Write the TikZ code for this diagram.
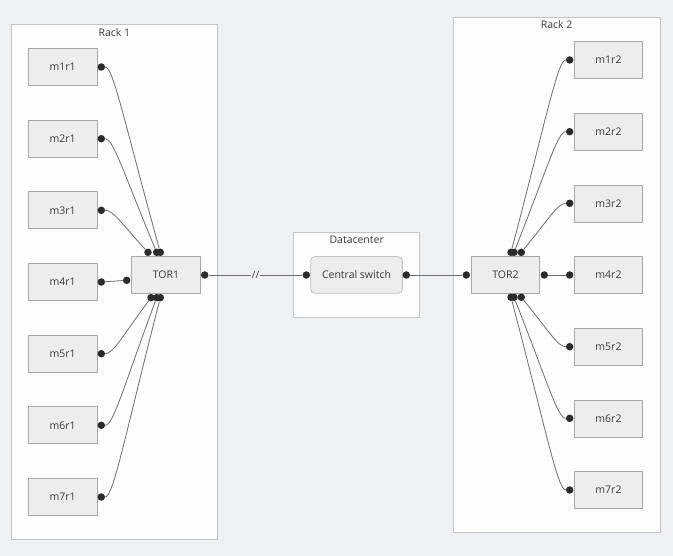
\documentclass[tikz,border=0pt]{standalone}
\usepackage{fontspec}
\setmainfont{Open Sans}
\definecolor{canvas}{HTML}{EEF1F4}
\definecolor{rackfill}{HTML}{FDFDFD}
\definecolor{frame}{HTML}{C4C4C4}
\definecolor{boxfill}{HTML}{EDEDED}
\definecolor{boxline}{HTML}{A8A8A8}
\definecolor{ink}{HTML}{3A3A3A}
\definecolor{dot}{HTML}{2B2B2B}
\definecolor{wire}{HTML}{6E6E6E}

\begin{document}
\begin{tikzpicture}[x=1pt,y=-1pt]
						\tikzstyle{rack}=[draw=frame,fill=rackfill,line width=0.9pt,inner sep=0pt]
						\tikzstyle{machine}=[draw=boxline,fill=boxfill,line width=0.9pt,minimum width=68.5pt,minimum height=37pt,inner sep=0pt,text=ink,font=\fontsize{10.5}{12}\selectfont]
						\tikzstyle{title}=[text=ink,inner sep=0pt,font=\fontsize{10.5}{12}\selectfont]
						\tikzstyle{port}=[circle,fill=dot,inner sep=0pt,minimum size=7.5pt]
						\tikzstyle{wire}=[draw=wire,line width=0.8pt]
						\fill[canvas] (0,0) rectangle (673,556);
						\useasboundingbox (0,0) rectangle (673,556);
						\node[rack,minimum width=206pt,minimum height=515pt](rack1) at (114.3,281.8) {};
						\node[rack,minimum width=206.7pt,minimum height=515.4pt](rack2) at (556.7,275) {};
						\node[rack,minimum width=126pt,minimum height=85pt](dc) at (356.3,275.2) {};
						\node[title](rack1t) at (114.3,32.3) {Rack 1};
						\node[title](rack2t) at (556.7,25) {Rack 2};
						\node[title](dct) at (356.7,240) {Datacenter};
						\node[machine](m1r1) at (62.7,66.8) {m1r1};
						\node[machine](m2r1) at (62.7,138.7) {m2r1};
						\node[machine](m3r1) at (62.7,210.3) {m3r1};
						\node[machine](m4r1) at (62.7,282) {m4r1};
						\node[machine](m5r1) at (62.7,353.7) {m5r1};
						\node[machine](m6r1) at (62.7,425.3) {m6r1};
						\node[machine](m7r1) at (62.7,497) {m7r1};
						\node[machine](tor1) at (166,275) {TOR1};
						\node[machine](m1r2) at (608.5,60) {m1r2};
						\node[machine](m2r2) at (608.5,131.8) {m2r2};
						\node[machine](m3r2) at (608.5,203.7) {m3r2};
						\node[machine](m4r2) at (608.5,275) {m4r2};
						\node[machine](m5r2) at (608.5,346.8) {m5r2};
						\node[machine](m6r2) at (608.5,418.5) {m6r2};
						\node[machine](m7r2) at (608.5,490) {m7r2};
						\node[machine](tor2) at (505.5,275) {TOR2};
						\node[machine,minimum width=91.6pt,minimum height=36.6pt,rounded corners=4pt,draw=frame](cs) at (356.5,275) {Central switch};
						\node[port](m1r1p) at (101.3,67) {};
						\node[port](m2r1p) at (101.3,138.7) {};
						\node[port](m3r1p) at (101.3,210.3) {};
						\node[port](m4r1p) at (101.3,282) {};
						\node[port](m5r1p) at (101.3,353.7) {};
						\node[port](m6r1p) at (101.3,425.3) {};
						\node[port](m7r1p) at (101.3,497) {};
						\node[port](tor1t1) at (148,252.3) {};
						\node[port](tor1t2) at (156.7,252.3) {};
						\node[port](tor1t3) at (160.3,252.3) {};
						\node[port](tor1b1) at (151,297.7) {};
						\node[port](tor1b2) at (156.7,297.7) {};
						\node[port](tor1b3) at (160.3,297.7) {};
						\node[port](tor1l) at (126.7,280.3) {};
						\node[port](tor1r) at (204.7,275) {};
						\node[port](csl) at (306.3,275) {};
						\node[port](csr) at (406.3,275) {};
						\node[port](tor2l) at (466.3,275) {};
						\node[port](tor2r) at (544.3,275) {};
						\node[port](tor2t1) at (511,252.3) {};
						\node[port](tor2t2) at (514,252.3) {};
						\node[port](tor2t3) at (521.3,252.3) {};
						\node[port](tor2b1) at (511,297.3) {};
						\node[port](tor2b2) at (514,297.3) {};
						\node[port](tor2b3) at (521.3,297.3) {};
						\node[port](m1r2p) at (569.7,60) {};
						\node[port](m2r2p) at (569.7,131.7) {};
						\node[port](m3r2p) at (569.7,203.3) {};
						\node[port](m4r2p) at (569.7,275) {};
						\node[port](m5r2p) at (569.7,346.7) {};
						\node[port](m6r2p) at (569.7,418.3) {};
						\node[port](m7r2p) at (569.7,490) {};
						\draw[wire] (m1r1p) .. controls (113.3,67) and (124.4,122.6) .. (tor1t3);
						\draw[wire] (m2r1p) .. controls (113.3,138.7) and (123.5,172.8) .. (tor1t2);
						\draw[wire] (m3r1p) .. controls (113.3,210.3) and (120.9,222.9) .. (tor1t1);
						\draw[wire] (m4r1p) -- (tor1l);
						\draw[wire] (m5r1p) .. controls (113.3,353.7) and (121.8,336.9) .. (tor1b1);
						\draw[wire] (m6r1p) .. controls (113.3,425.3) and (123.5,387) .. (tor1b2);
						\draw[wire] (m7r1p) .. controls (113.3,497) and (124.6,437.2) .. (tor1b3);
						\draw[wire] (tor1r) -- (csl) node [midway, fill=canvas, text=ink, inner sep=1pt, font=\fontsize{10}{12}\selectfont] {//};
						\draw[wire] (csr) -- (tor2l);
						\draw[wire] (tor2r) -- (m4r2p);
						\draw[wire] (m1r2p) .. controls (557.7,60) and (546.5,117.7) .. (tor2t1);
						\draw[wire] (m2r2p) .. controls (557.7,131.7) and (547.4,167.9) .. (tor2t2);
						\draw[wire] (m3r2p) .. controls (557.7,203.3) and (549.6,218) .. (tor2t3);
						\draw[wire] (m5r2p) .. controls (557.7,346.7) and (549.6,331.9) .. (tor2b3);
						\draw[wire] (m6r2p) .. controls (557.7,418.3) and (547.4,382) .. (tor2b2);
						\draw[wire] (m7r2p) .. controls (557.7,490) and (546.5,432.2) .. (tor2b1);
					\end{tikzpicture}
\end{document}
